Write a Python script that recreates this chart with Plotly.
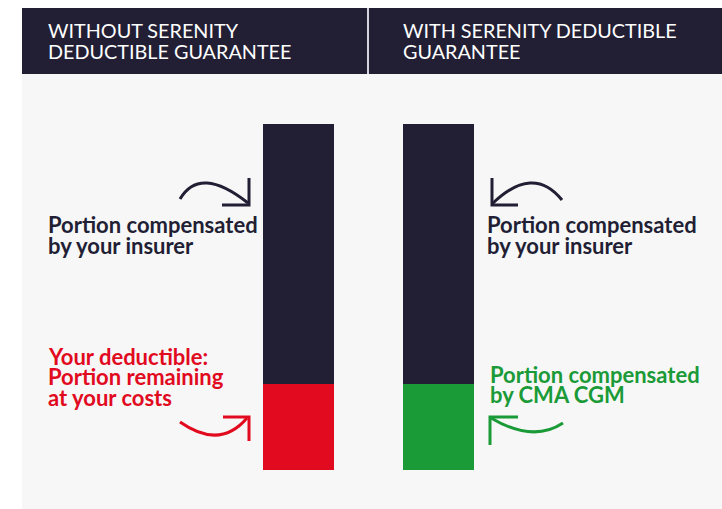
import plotly.graph_objects as go

W, H = 722, 509

# ---- data ----
scenarios = ["Without Serenity Deductible Guarantee", "With Serenity Deductible Guarantee"]
deductible_share = [25, 25]        # bottom part of each bar (%)
insurer_share = [75, 75]           # top part of each bar (%)
header_titles = [["WITHOUT SERENITY", "DEDUCTIBLE GUARANTEE"],
                 ["WITH SERENITY DEDUCTIBLE", "GUARANTEE"]]
insurer_label = ["Portion compensated", "by your insurer"]
deductible_label = ["Your deductible:", "Portion remaining", "at your costs"]
cmacgm_label = ["Portion compensated", "by CMA CGM"]

NAVY = "#221f35"
RED = "#e10a1e"
GREEN = "#1b9a38"
BG = "#f7f7f7"
FONT = "Lato"


def px(x):
    return x / W


def py(y):
    return 1 - y / H


def path(cmds):
    out = []
    for c in cmds:
        if isinstance(c, str):
            out.append(c)
        else:
            out.append(f"{px(c[0]):.5f},{py(c[1]):.5f}")
    return " ".join(out)


fig = go.Figure()
fig.add_bar(x=scenarios, y=deductible_share, marker_color=[RED, GREEN],
            marker_line_width=0, width=0.507, showlegend=False, hoverinfo="skip")
fig.add_bar(x=scenarios, y=insurer_share, marker_color=NAVY,
            marker_line_width=0, width=0.507, showlegend=False, hoverinfo="skip")

shapes = [
    dict(type="rect", xref="paper", yref="paper", x0=px(22), x1=1, y0=0, y1=py(74),
         fillcolor=BG, line_width=0, layer="below"),
    dict(type="rect", xref="paper", yref="paper", x0=px(22), x1=1, y0=py(74), y1=py(8),
         fillcolor=NAVY, line_width=0, layer="below"),
    dict(type="line", xref="paper", yref="paper", x0=px(368), x1=px(368), y0=py(74), y1=py(8),
         line=dict(color="#d4d4dc", width=2), layer="above"),
]


def arrow(cmds, color):
    shapes.append(dict(type="path", xref="paper", yref="paper", path=path(cmds),
                       line=dict(color=color, width=3), fillcolor="rgba(0,0,0,0)"))


# navy arrows
arrow(["M", (180, 199), "Q", (200, 165), (248, 203)], NAVY)
arrow(["M", (249, 178), "L", (249, 205), "L", (222, 205)], NAVY)
arrow(["M", (492, 204), "Q", (533, 164), (562, 200)], NAVY)
arrow(["M", (492, 178), "L", (492, 205), "L", (518, 205)], NAVY)
# red arrow
arrow(["M", (180, 422), "Q", (220, 450), (247, 418)], RED)
arrow(["M", (223, 417), "L", (249, 417), "L", (249, 441)], RED)
# green arrow
arrow(["M", (491, 418), "Q", (533, 443), (563, 423)], GREEN)
arrow(["M", (518, 417), "L", (490, 417), "L", (490, 445)], GREEN)

annotations = []


def lines(texts, x, y0, step, color, size, weight):
    for i, t in enumerate(texts):
        annotations.append(dict(text=t, xref="paper", yref="paper", x=px(x), y=py(y0 + i * step),
                                xanchor="left", yanchor="middle", showarrow=False, borderpad=0,
                                font=dict(family=FONT, size=size, color=color, weight=weight)))


lines(header_titles[0], 47, 30, 20.5, "#ffffff", 19.8, "normal")
lines(header_titles[1], 402, 30, 20.5, "#ffffff", 19.8, "normal")
lines(insurer_label, 47, 225, 20, NAVY, 22, "bold")
lines(insurer_label, 486, 225, 20, NAVY, 22, "bold")
lines(deductible_label, 47, 356, 20.5, RED, 22, "bold")
lines(cmacgm_label, 489, 374, 20, GREEN, 22, "bold")

fig.update_layout(
    width=W, height=H, margin=dict(l=0, r=0, t=0, b=0),
    paper_bgcolor="#ffffff", plot_bgcolor="rgba(0,0,0,0)",
    barmode="stack", bargap=0,
    xaxis=dict(visible=False, range=[-2.132, 3.025], fixedrange=True),
    yaxis=dict(visible=False, range=[-11.27, 135.84], fixedrange=True),
    shapes=shapes, annotations=annotations,
)

fig.write_html("out.html", config={"displayModeBar": False},
               post_script="document.body.style.margin='0';")
